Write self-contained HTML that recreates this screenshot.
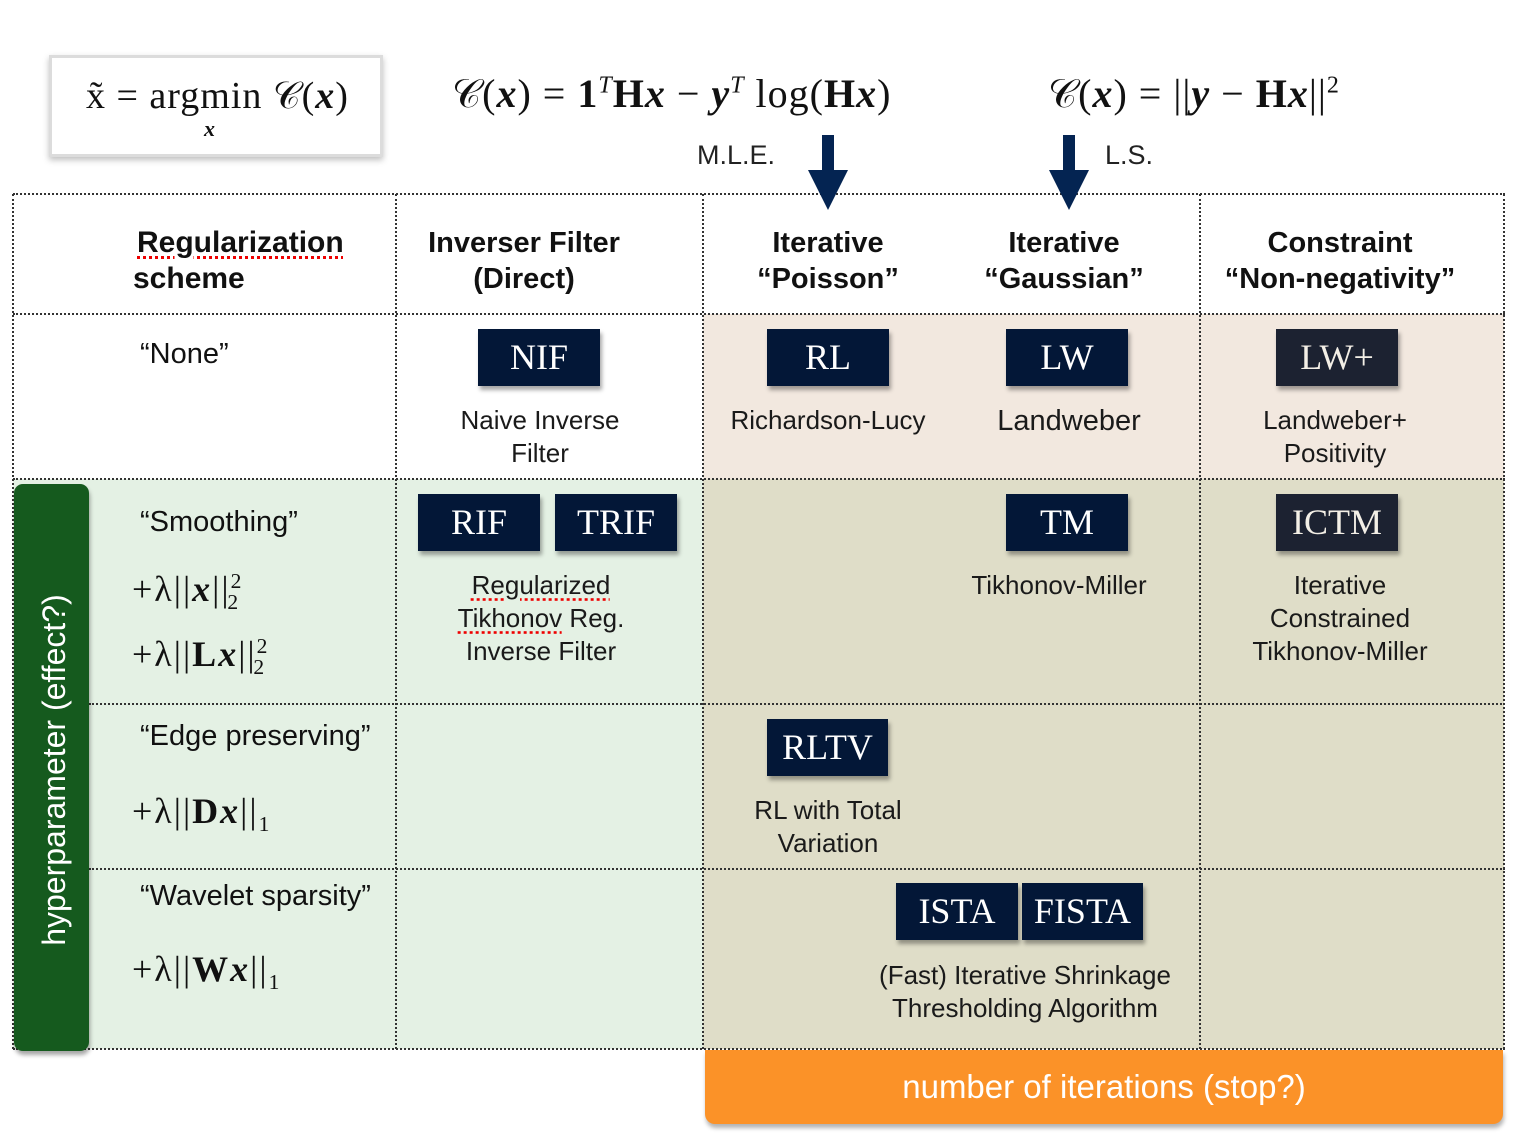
<!DOCTYPE html>
<html><head><meta charset="utf-8"><style>
*{margin:0;padding:0;box-sizing:border-box}
body{width:1534px;height:1146px;background:#fff;position:relative;overflow:hidden;font-family:"Liberation Sans",sans-serif;color:#111}
.a{position:absolute}
.bg{position:absolute}
.hl{position:absolute;height:0;border-top:2px dotted #333}
.vl{position:absolute;width:0;border-left:2px dotted #333}
.box{position:absolute;width:122px;height:57px;background:#031737;color:#fff;font-family:"Liberation Serif",serif;font-size:36px;text-align:center;line-height:57px;box-shadow:2px 4px 4px rgba(0,0,0,.35)}
.box.g{background:#1c2231;color:#f3efe6}
.lab{position:absolute;font-size:26px;text-align:center;line-height:33px;color:#1a1a1a;transform:translateX(-50%);white-space:nowrap}
.hd{position:absolute;font-size:29px;font-weight:bold;text-align:center;line-height:36px;transform:translateX(-50%);white-space:nowrap}
.rt{position:absolute;font-size:29px;white-space:nowrap}
.m{position:absolute;font-family:"Liberation Serif",serif;font-size:36px;white-space:nowrap;letter-spacing:2px}
.m i{font-weight:bold}
.t{letter-spacing:1px}
sup,sub{font-size:60%}
.sq{text-decoration:underline dotted #e00;text-underline-offset:4px}
</style></head><body>
<div class="bg" style="left:703px;top:314px;width:801px;height:165px;background:#f2e8df"></div>
<div class="bg" style="left:13px;top:479px;width:690px;height:570px;background:#e4f1e4"></div>
<div class="bg" style="left:703px;top:479px;width:801px;height:570px;background:#dfddc8"></div>
<div class="hl" style="left:13px;top:193px;width:1492px"></div>
<div class="hl" style="left:13px;top:313px;width:1492px"></div>
<div class="hl" style="left:13px;top:478px;width:1492px"></div>
<div class="hl" style="left:89px;top:703px;width:1416px"></div>
<div class="hl" style="left:89px;top:868px;width:1416px"></div>
<div class="hl" style="left:13px;top:1048px;width:1492px"></div>
<div class="vl" style="left:12px;top:194px;height:855px"></div>
<div class="vl" style="left:395px;top:194px;height:855px"></div>
<div class="vl" style="left:702px;top:194px;height:855px"></div>
<div class="vl" style="left:1199px;top:194px;height:855px"></div>
<div class="vl" style="left:1503px;top:194px;height:855px"></div>
<div class="a" style="left:49px;top:55px;width:334px;height:102px;border:3px solid #dcdcdc;background:#fff;box-shadow:0 3px 6px rgba(0,0,0,.25)"></div>
<div class="m t" style="left:86px;top:74px;font-size:38px">x̃ = argmin 𝒞(<i>x</i>)</div>
<div class="m" style="left:204px;top:116px;font-size:22px"><i>x</i></div>
<div class="m t" style="left:452px;top:70px;font-size:40px">𝒞(<i>x</i>) = <b>1</b><sup><i style="font-weight:normal">T</i></sup><b>H<i>x</i></b> − <i>y</i><sup><i style="font-weight:normal">T</i></sup> log(<b>H<i>x</i></b>)</div>
<div class="m t" style="left:1048px;top:70px;font-size:40px">𝒞(<i>x</i>) = ||<i>y</i> − <b>H<i>x</i></b>||<sup>2</sup></div>
<div class="a" style="left:697px;top:140px;font-size:27px;color:#222">M.L.E.</div>
<div class="a" style="left:1105px;top:140px;font-size:27px;color:#222">L.S.</div>
<svg class="a" style="left:0;top:0" width="1534" height="230">
<polygon points="822,135 834,135 834,170 848,170 828,210 808,170 822,170" fill="#042452"/>
<polygon points="1063,135 1075,135 1075,170 1089,170 1069,210 1049,170 1063,170" fill="#042452"/>
</svg>
<div class="a" style="left:137px;top:225px;font-size:30px;font-weight:bold;line-height:36px"><span class="sq">Regularization</span><br><span style="margin-left:-4px">scheme</span></div>
<div class="hd" style="left:524px;top:225px">Inverser Filter<br>(Direct)</div>
<div class="hd" style="left:828px;top:225px">Iterative<br>“Poisson”</div>
<div class="hd" style="left:1064px;top:225px">Iterative<br>“Gaussian”</div>
<div class="hd" style="left:1340px;top:225px">Constraint<br>“Non-negativity”</div>
<div class="rt" style="left:140px;top:338px">“None”</div>
<div class="rt" style="left:140px;top:506px">“Smoothing”</div>
<div class="m" style="left:132px;top:568px">+λ||<i>x</i>||<sup>2</sup><sub style="margin-left:-16px">2</sub></div>
<div class="m" style="left:132px;top:633px">+λ||<b>L<i>x</i></b>||<sup>2</sup><sub style="margin-left:-16px">2</sub></div>
<div class="rt" style="left:140px;top:720px">“Edge preserving”</div>
<div class="m" style="left:132px;top:790px">+λ||<b>D<i>x</i></b>||<sub>1</sub></div>
<div class="rt" style="left:140px;top:880px">“Wavelet sparsity”</div>
<div class="m" style="left:132px;top:948px">+λ||<b>W<i>x</i></b>||<sub>1</sub></div>
<div class="box" style="left:478px;top:329px">NIF</div>
<div class="box" style="left:767px;top:329px">RL</div>
<div class="box" style="left:1006px;top:329px">LW</div>
<div class="box g" style="left:1276px;top:329px">LW+</div>
<div class="box" style="left:418px;top:494px">RIF</div>
<div class="box" style="left:555px;top:494px">TRIF</div>
<div class="box" style="left:1006px;top:494px">TM</div>
<div class="box g" style="left:1276px;top:494px">ICTM</div>
<div class="box" style="left:767px;top:719px;width:121px">RLTV</div>
<div class="box" style="left:896px;top:883px">ISTA</div>
<div class="box" style="left:1022px;top:883px;width:121px">FISTA</div>
<div class="lab" style="left:540px;top:404px">Naive Inverse<br>Filter</div>
<div class="lab" style="left:828px;top:404px">Richardson-Lucy</div>
<div class="lab" style="left:1069px;top:405px;font-size:29px">Landweber</div>
<div class="lab" style="left:1335px;top:404px">Landweber+<br>Positivity</div>
<div class="lab" style="left:541px;top:569px"><span class="sq">Regularized</span><br><span class="sq">Tikhonov</span> Reg.<br>Inverse Filter</div>
<div class="lab" style="left:1059px;top:569px">Tikhonov-Miller</div>
<div class="lab" style="left:1340px;top:569px">Iterative<br>Constrained<br>Tikhonov-Miller</div>
<div class="lab" style="left:828px;top:794px">RL with Total<br>Variation</div>
<div class="lab" style="left:1025px;top:959px">(Fast) Iterative Shrinkage<br>Thresholding Algorithm</div>
<div class="a" style="left:14px;top:484px;width:75px;height:567px;background:#155a1e;border-radius:9px;box-shadow:1px 4px 4px rgba(0,0,0,.35)"></div>
<div class="a" style="left:54px;top:770px;width:0;height:0">
<div style="position:absolute;left:-220px;top:-19px;width:440px;text-align:center;transform:rotate(-90deg);color:#fff;font-size:32px;line-height:38px;white-space:nowrap">hyperparameter (effect?)</div></div>
<div class="a" style="left:705px;top:1050px;width:798px;height:74px;background:#fb9228;border-radius:0 0 10px 10px;box-shadow:1px 4px 4px rgba(0,0,0,.3);color:#fff;font-size:33px;text-align:center;line-height:74px">number of iterations (stop?)</div>
</body></html>
